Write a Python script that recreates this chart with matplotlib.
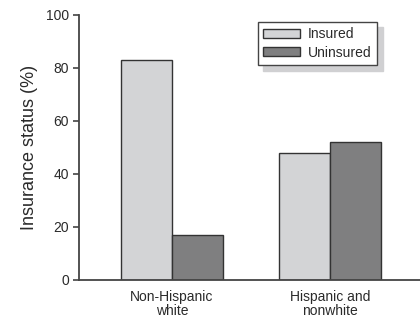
import numpy as np
import matplotlib.pyplot as plt

groups = ["Non-Hispanic\nwhite", "Hispanic and\nnonwhite"]
insured = [83, 48]
uninsured = [17, 52]
yticks = [0, 20, 40, 60, 80, 100]

plt.rcParams['font.family'] = ['Liberation Sans Narrow', 'Liberation Sans', 'DejaVu Sans']

fig = plt.figure(figsize=(4.2, 3.18), dpi=100)
ax = fig.add_axes([0.188, 0.1195, 0.812, 0.8335])

x = np.arange(len(groups))
w = 0.325
ax.bar(x - w / 2, insured, w, color="#d3d4d6", edgecolor="#333333", linewidth=1, label="Insured")
ax.bar(x + w / 2, uninsured, w, color="#7f7f80", edgecolor="#333333", linewidth=1, label="Uninsured")

ax.set_xlim(-0.589, 1.57)
ax.set_ylim(0, 100)
ax.set_yticks(yticks)
ax.set_xticks(x)
ax.set_xticklabels(groups, fontsize=10, color="#2a2a2a", linespacing=1.0)
ax.tick_params(axis="x", length=0, pad=7)
ax.tick_params(axis="y", length=4, width=1.2, color="#444444", labelsize=10, labelcolor="#2a2a2a", pad=3)
ax.set_ylabel("Insurance status (%)", fontsize=13, color="#2a2a2a", labelpad=6)

for s in ["top", "right"]:
    ax.spines[s].set_visible(False)
for s in ["left", "bottom"]:
    ax.spines[s].set_color("#444444")
    ax.spines[s].set_linewidth(1.3)

leg = ax.legend(loc="upper left", bbox_to_anchor=(0.614, 0.931), bbox_transform=fig.transFigure,
                fancybox=False, shadow={"ox": 4, "oy": -4, "color": "#d0d0d2", "alpha": 1},
                fontsize=10, handlelength=2.6, handleheight=0.6, borderpad=0.4,
                labelspacing=0.3, handletextpad=0.6, borderaxespad=0)
leg.get_frame().set_edgecolor("#444444")
leg.get_frame().set_linewidth(1)
for t in leg.get_texts():
    t.set_color("#2a2a2a")

fig.savefig("out.png", dpi=100)
